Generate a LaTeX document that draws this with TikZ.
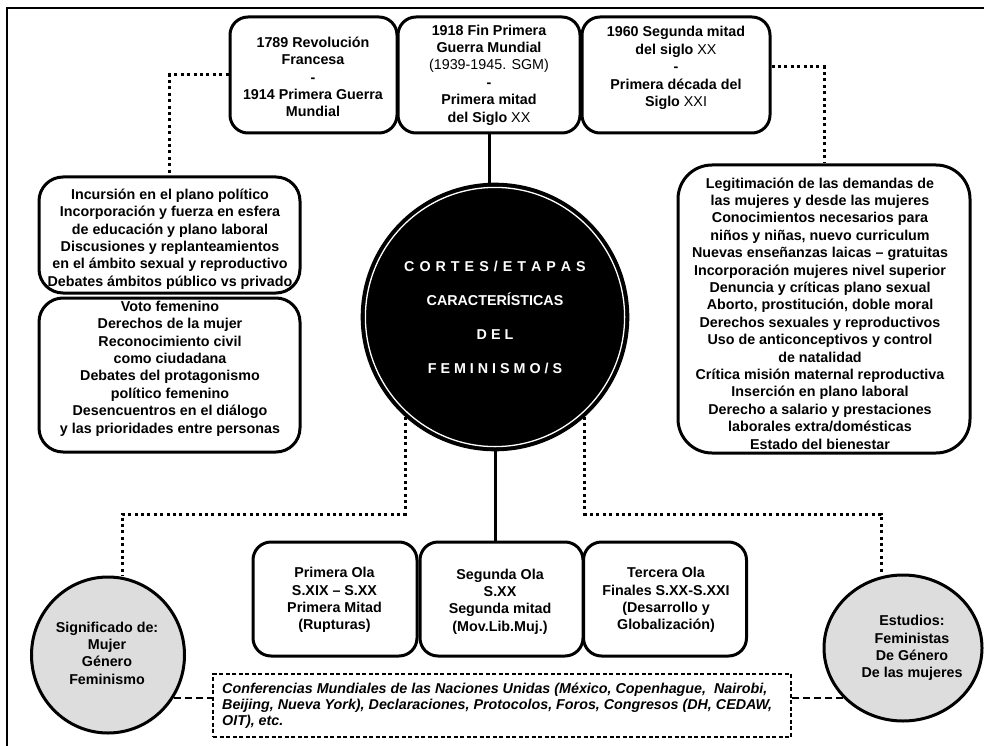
\documentclass[tikz,border=0pt]{standalone}
\usepackage{fontspec}
\setmainfont{Liberation Sans}
\usetikzlibrary{shapes.geometric,calc}
\definecolor{ovalgray}{RGB}{221,221,221}
\tikzset{
  panel/.style={draw, line width=3pt, rounded corners=#1, inner sep=0pt},
  panel/.default=18pt,
  txt/.style={align=center, inner sep=0pt, font=\fontsize{14.3}{17.4}\selectfont\bfseries},
  oval/.style={ellipse, draw, fill=ovalgray, line width=3pt, inner sep=0pt},
  link/.style={line width=3pt},
  dotlink/.style={line width=3pt, dash pattern=on 3pt off 3.4pt},
  dashlink/.style={line width=1.7pt, dash pattern=on 7pt off 4pt},
  notebox/.style={draw, line width=1.5pt, dash pattern=on 4pt off 2.5pt, inner sep=0pt}
}
\begin{document}
\begin{tikzpicture}[x=1pt,y=-1pt]
\useasboundingbox (0,0) rectangle (984,746);
\fill[white] (0,0) rectangle (984,746);
% outer frame
\draw[line width=2.2pt] (7,746) -- (7,8) -- (984,8);

% periods
\node[panel, minimum width=167pt, minimum height=116pt] (top1) at (313.5,75) {};
\node[panel, minimum width=182pt, minimum height=116pt] (top2) at (489,75) {};
\node[panel, minimum width=188pt, minimum height=116pt] (top3) at (676,75) {};
\node[txt] (top1t) at (313,77) {1789 Revolución\\Francesa\\-\\1914 Primera Guerra\\Mundial};
\node[txt] (top2t) at (489,75) {1918 Fin Primera\\Guerra Mundial\\{\mdseries(1939-1945. SGM)}\\-\\Primera mitad\\del Siglo {\mdseries XX}};
\node[txt] (top3t) at (676,68) {1960 Segunda mitad\\del siglo {\mdseries XX}\\-\\Primera década del\\Siglo {\mdseries XXI}};

% first stage
\node[panel=24pt, minimum width=261pt, minimum height=116pt] (polA) at (169.5,235) {};
\node[panel=24pt, minimum width=261pt, minimum height=154pt] (polB) at (169.5,375) {};
\node[txt] (polAt) at (170,239) {Incursión en el plano político\\Incorporación y fuerza en esfera\\de educación y plano laboral\\Discusiones y replanteamientos\\en el ámbito sexual y reproductivo\\Debates ámbitos público vs privado};
\node[txt] (polBt) at (170,368.5) {Voto femenino\\Derechos de la mujer\\Reconocimiento civil\\como ciudadana\\Debates del protagonismo\\político femenino\\Desencuentros en el diálogo\\y las prioridades entre personas};

% later stage
\node[panel=34pt, minimum width=292pt, minimum height=288pt] (rightC) at (824,309) {};
\node[txt] (rightCt) at (820,313.5) {Legitimación de las demandas de\\las mujeres y desde las mujeres\\Conocimientos necesarios para\\niños y niñas, nuevo curriculum\\Nuevas enseñanzas laicas – gratuitas\\Incorporación mujeres nivel superior\\Denuncia y críticas plano sexual\\Aborto, prostitución, doble moral\\Derechos sexuales y reproductivos\\Uso de anticonceptivos y control\\de natalidad\\Crítica misión maternal reproductiva\\Inserción en plano laboral\\Derecho a salario y prestaciones\\laborales extra/domésticas\\Estado del bienestar};

% central disc
\node[circle, fill=black, draw=black, line width=2.6pt, minimum size=266pt, inner sep=0pt] (core) at (495,317) {};
\draw[white, line width=1.3pt] (core.center) circle[radius=129.6pt];
\node[txt, text=white, font=\fontsize{14.3}{34.3}\selectfont\bfseries] (coret) at (495,317.5)
  {\spaceskip=5pt\relax C O R T E S / E T A P A S\\CARACTERÍSTICAS\\D E L\\F E M I N I S M O / S};

% waves
\node[panel, minimum width=164pt, minimum height=114pt] (wave1) at (335,599) {};
\node[panel, minimum width=163pt, minimum height=114pt] (wave2) at (501.5,599) {};
\node[panel, minimum width=163pt, minimum height=114pt] (wave3) at (665,599) {};
\node[txt] (wave1t) at (334.5,600) {Primera Ola\\S.XIX – S.XX\\Primera Mitad\\(Rupturas)};
\node[txt] (wave2t) at (500,601.5) {Segunda Ola\\S.XX\\Segunda mitad\\(Mov.Lib.Muj.)};
\node[txt] (wave3t) at (666,600) {Tercera Ola\\Finales S.XX-S.XXI\\(Desarrollo y\\Globalización)};

% ovals
\node[oval, minimum width=153pt, minimum height=156pt] (ellL) at (108,655) {};
\node[oval, minimum width=158pt, minimum height=146pt] (ellR) at (903,648) {};
\node[txt] (ellLt) at (107,653) {Significado de:\\Mujer\\Género\\Feminismo};
\node[txt] (ellRt) at (912,648) {Estudios:\\Feministas\\De Género\\De las mujeres};

% international framework
\node[notebox, minimum width=578pt, minimum height=63pt] (conf) at (502,705.5) {};
\node[align=left, anchor=west, inner sep=0pt, font=\fontsize{14.3}{16}\selectfont\bfseries\itshape] (conft) at (222,706)
  {Conferencias Mundiales de las Naciones Unidas (México, Copenhague,\ \ Nairobi,\\Beijing, Nueva York), Declaraciones, Protocolos, Foros, Congresos (DH, CEDAW,\\OIT), etc.};

% connectors
\draw[link] (top2.south) -- (top2.south |- core.north);
\draw[link] (core.south) -- (core.south |- wave2.north);
\draw[dotlink] (top1.west) -| (polA.north);
\draw[dotlink] ($(top3.east)+(0,-8)$) -| (rightC.north);
\coordinate (jl) at (122,514);
\coordinate (jr) at (881,514);
\coordinate (cl) at (core.228);
\coordinate (cr) at (core.312);
\draw[dotlink] (cl) |- (jl) -- (jl |- ellL.north);
\draw[dotlink] (cr) |- (jr) -- (jr |- ellR.north);
\coordinate (dl) at (ellL.-33);
\coordinate (dr) at (ellR.220);
\draw[dashlink] (dl) -- (dl -| conf.west);
\draw[dashlink] (dr) -- (dr -| conf.east);
\end{tikzpicture}
\end{document}
